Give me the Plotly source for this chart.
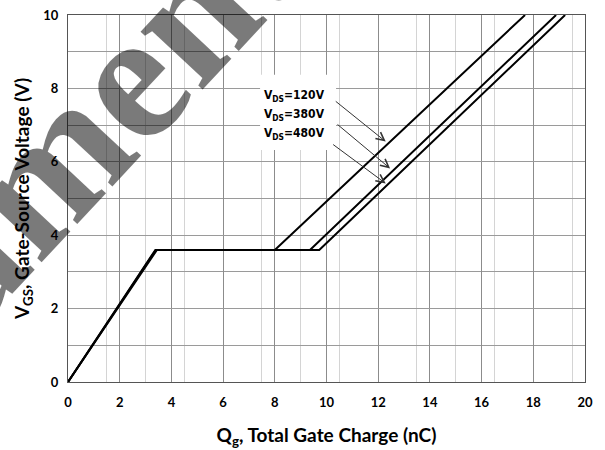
import plotly.graph_objects as go

# Data (Qg in nC, Vgs in V)
series_names = ["V<sub>DS</sub>=120V", "V<sub>DS</sub>=380V", "V<sub>DS</sub>=480V"]
qg_120 = [0, 3.38, 8.0, 17.68]
vgs_120 = [0, 3.6, 3.6, 10]
qg_380 = [0, 3.40, 9.36, 18.88]
vgs_380 = [0, 3.6, 3.6, 10]
qg_480 = [0, 3.44, 9.72, 19.23]
vgs_480 = [0, 3.6, 3.6, 10]

x_ticks = [0, 2, 4, 6, 8, 10, 12, 14, 16, 18, 20]
y_ticks = [0, 2, 4, 6, 8, 10]

# arrow (start -> end) in data units
arrow_start = [(10.30, 7.68), (10.37, 7.05), (10.20, 6.50)]
arrow_end = [(12.29, 6.55), (12.46, 5.82), (12.29, 5.41)]
label_y = [7.80, 7.28, 6.76]

FONT = "Lato"
NARROW = "Liberation Sans Narrow, DejaVu Sans Condensed, Lato"

fig = go.Figure()
for qx, vy in [(qg_120, vgs_120), (qg_380, vgs_380), (qg_480, vgs_480)]:
    fig.add_trace(go.Scatter(x=qx, y=vy, mode="lines",
                             line=dict(color="black", width=2),
                             showlegend=False, hoverinfo="skip"))

# white box behind labels
fig.add_shape(type="rect", xref="x", yref="y", x0=7.43, x1=10.37, y0=6.32, y1=8.37,
              fillcolor="white", line=dict(width=0), layer="between")

for name, ly in zip(series_names, label_y):
    fig.add_annotation(x=7.5, y=ly, xref="x", yref="y", text=name, showarrow=False,
                       xanchor="left", yanchor="middle",
                       font=dict(family=NARROW, size=12, color="black", weight="bold"))

for (sx, sy), (ex, ey) in zip(arrow_start, arrow_end):
    fig.add_annotation(x=ex, y=ey, ax=sx, ay=sy, xref="x", yref="y", axref="x", ayref="y",
                       text="", showarrow=True, arrowhead=5, arrowsize=1.6,
                       arrowwidth=1, arrowcolor="#333333")

# watermark
fig.add_annotation(x=0.05, y=0.73, xref="paper", yref="paper", text="ument",
                   showarrow=False, textangle=-47, xanchor="center", yanchor="middle",
                   font=dict(family="Liberation Serif", size=185, color="rgba(0,0,0,0.52)",
                             weight="bold"))

fig.update_layout(
    width=605, height=450,
    margin=dict(l=68, r=20, t=15, b=68, autoexpand=False),
    paper_bgcolor="white", plot_bgcolor="white",
    font=dict(family=FONT, color="black"),
    xaxis=dict(range=[0, 20], tickvals=x_ticks, ticktext=[str(v) for v in x_ticks],
               automargin=False,
               showgrid=True, gridcolor="#8c8c8c", gridwidth=1,
               minor=dict(dtick=1.5, tick0=0, showgrid=True, gridcolor="#d4d4d4", gridwidth=1),
               showline=True, linecolor="#555555", linewidth=1, mirror=True,
               ticks="", zeroline=False, ticklabelstandoff=8,
               tickfont=dict(family=FONT, size=13, color="black", weight="bold"),
               title=dict(text="Q<sub>g</sub>, Total Gate Charge (nC)",
                          font=dict(family=FONT, size=19, color="black", weight="bold"),
                          standoff=20)),
    yaxis=dict(range=[0, 10], tickvals=y_ticks, ticktext=[str(v) for v in y_ticks],
               automargin=False,
               showgrid=True, gridcolor="#9a9a9a", gridwidth=1,
               minor=dict(dtick=1, tick0=0, showgrid=True, gridcolor="#9a9a9a", gridwidth=1),
               showline=True, linecolor="#555555", linewidth=1, mirror=True,
               ticks="", zeroline=False, ticklabelstandoff=6,
               tickfont=dict(family=FONT, size=13, color="black", weight="bold"),
               title=dict(text="V<sub>GS</sub>, Gate-Source Voltage (V)",
                          font=dict(family=FONT, size=19, color="black", weight="bold"),
                          standoff=8)),
)

fig.write_html("out.html", config={"displayModeBar": False},
               post_script="document.body.style.margin='0';")
